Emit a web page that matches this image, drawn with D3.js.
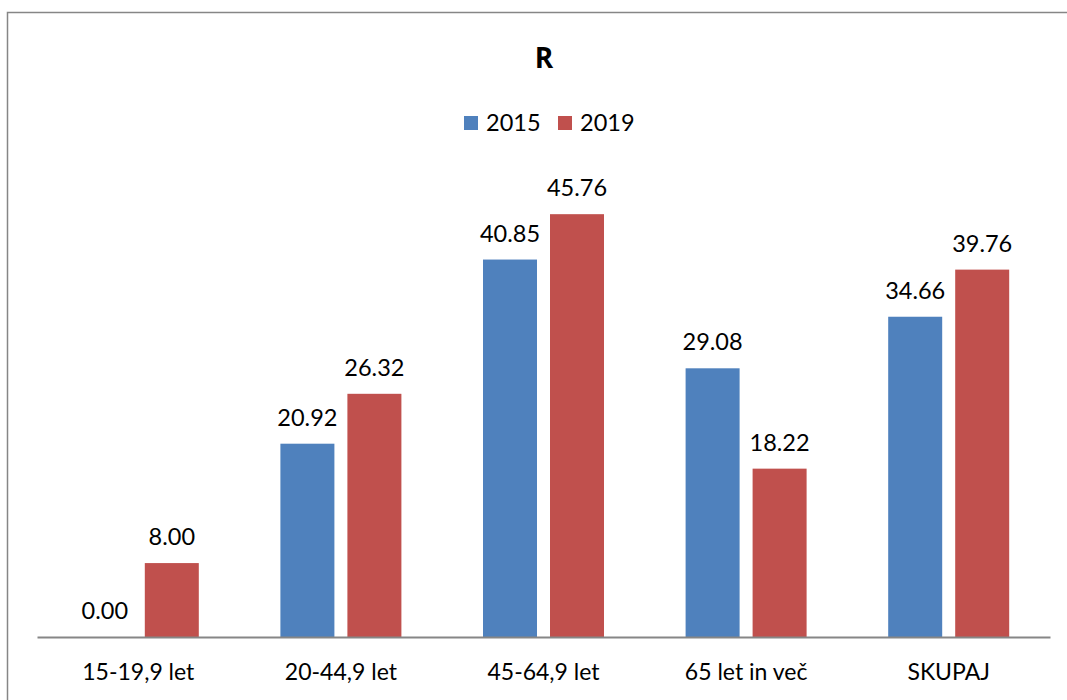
<!DOCTYPE html>
<html>
<head>
<meta charset="utf-8">
<script src="https://cdn.jsdelivr.net/npm/d3@7"></script>
<style>
  body { margin: 0; background: #fff; }
  text { font-family: Lato, "Open Sans", sans-serif; fill: #000; }
</style>
</head>
<body>
<div id="chart"></div>
<script>
/* DATA */
const categories = ["15-19,9 let", "20-44,9 let", "45-64,9 let", "65 let in več", "SKUPAJ"];
const series = ["2015", "2019"];
const values2015 = [0.00, 20.92, 40.85, 29.08, 34.66];
const values2019 = [8.00, 26.32, 45.76, 18.22, 39.76];
const colors = ["#4F81BD", "#C0504D"];

const width = 1067, height = 700;
const margin = { top: 175, bottom: 63, left: 37, right: 17 };

const svg = d3.select("#chart").append("svg")
  .attr("width", width)
  .attr("height", height);

// outer frame (right and bottom edges fall outside the picture)
svg.append("rect")
  .attr("x", 7.5).attr("y", 12.5)
  .attr("width", width + 20).attr("height", height + 20)
  .attr("fill", "none")
  .attr("stroke", "#868686")
  .attr("stroke-width", 1.5);

// title
svg.append("text")
  .attr("x", 544).attr("y", 68)
  .attr("text-anchor", "middle")
  .style("font-family", "'Open Sans', sans-serif")
  .style("font-weight", "bold")
  .style("font-size", "28px")
  .text("R");

// scales
const x0 = d3.scaleBand()
  .domain(categories)
  .range([margin.left, width - margin.right]);

const x1 = d3.scaleBand()
  .domain(series)
  .range([40.8, 161.8])
  .paddingInner(0.194);

const y = d3.scaleLinear()
  .domain([0, 50])
  .range([height - margin.bottom, margin.top]);

const rows = categories.map((c, i) => ({
  cat: c,
  vals: [values2015[i], values2019[i]]
}));

// legend
const legend = svg.append("g").attr("class", "legend");
const legendX = [464, 558];
series.forEach((s, i) => {
  legend.append("rect")
    .attr("x", legendX[i]).attr("y", 116)
    .attr("width", 14).attr("height", 14)
    .attr("fill", colors[i]);
  legend.append("text")
    .attr("x", legendX[i] + 22).attr("y", 131)
    .style("font-size", "23.5px")
    .text(s);
});

// bars
const groups = svg.selectAll(".group")
  .data(rows)
  .join("g")
  .attr("class", "group")
  .attr("transform", d => `translate(${x0(d.cat)},0)`);

groups.selectAll("rect")
  .data(d => d.vals.map((v, i) => ({ key: series[i], value: v, i })))
  .join("rect")
  .attr("x", d => x1(d.key))
  .attr("y", d => y(d.value))
  .attr("width", x1.bandwidth())
  .attr("height", d => y(0) - y(d.value))
  .attr("fill", d => colors[d.i]);

groups.selectAll(".val")
  .data(d => d.vals.map((v, i) => ({ key: series[i], value: v, i })))
  .join("text")
  .attr("class", "val")
  .attr("x", d => x1(d.key) + x1.bandwidth() / 2)
  .attr("y", d => y(d.value) - 18)
  .attr("text-anchor", "middle")
  .style("font-size", "23.5px")
  .text(d => d.value.toFixed(2));

// x axis
const xAxis = svg.append("g")
  .attr("class", "x-axis")
  .attr("transform", `translate(0, ${y(0)})`)
  .call(d3.axisBottom(x0).tickSize(0).tickPadding(27));

xAxis.select(".domain")
  .attr("stroke", "#868686")
  .attr("stroke-width", 2);

xAxis.selectAll("text")
  .style("font-family", "Lato, 'Open Sans', sans-serif")
  .style("font-size", "23px")
  .attr("fill", "#000");
</script>
</body>
</html>
